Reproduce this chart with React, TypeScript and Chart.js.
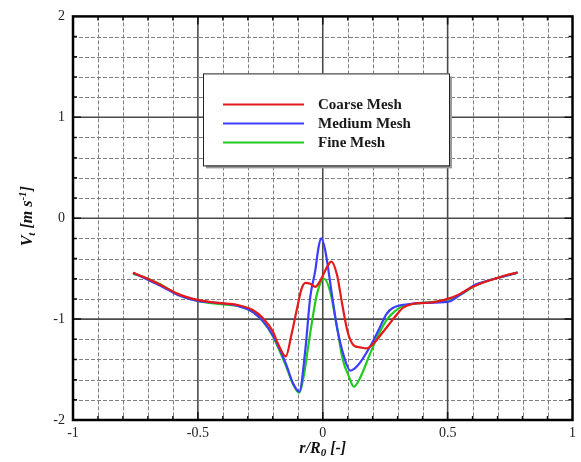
import React, { useEffect, useRef } from "react";
import { Chart, registerables } from "chart.js";

Chart.register(...registerables);

const coarseX = [-0.76, -0.70, -0.65, -0.58, -0.50, -0.42, -0.34, -0.28, -0.24, -0.20, -0.18, -0.148, -0.125, -0.10, -0.085, -0.069, -0.05, -0.03, -0.01, 0.018, 0.034, 0.057, 0.077, 0.10, 0.124, 0.15, 0.176, 0.20, 0.25, 0.295, 0.32, 0.36, 0.41, 0.45, 0.50, 0.55, 0.585, 0.64, 0.69, 0.74, 0.78];
const coarseY = [-0.54, -0.60, -0.66, -0.75, -0.81, -0.84, -0.86, -0.91, -0.99, -1.12, -1.24, -1.37, -1.15, -0.86, -0.70, -0.64, -0.65, -0.68, -0.62, -0.48, -0.43, -0.56, -0.84, -1.13, -1.26, -1.28, -1.29, -1.25, -1.10, -0.96, -0.89, -0.85, -0.84, -0.83, -0.80, -0.75, -0.70, -0.64, -0.60, -0.56, -0.54];

const mediumX = [-0.76, -0.70, -0.65, -0.58, -0.50, -0.42, -0.34, -0.28, -0.24, -0.20, -0.148, -0.12, -0.094, -0.07, -0.05, -0.03, -0.017, -0.006, 0.01, 0.038, 0.057, 0.085, 0.11, 0.14, 0.19, 0.225, 0.255, 0.28, 0.35, 0.40, 0.50, 0.55, 0.61, 0.66, 0.72, 0.78];
const mediumY = [-0.54, -0.61, -0.67, -0.76, -0.82, -0.84, -0.87, -0.93, -1.02, -1.16, -1.44, -1.63, -1.72, -1.31, -0.78, -0.52, -0.29, -0.20, -0.32, -0.78, -1.08, -1.37, -1.51, -1.46, -1.27, -1.10, -0.95, -0.89, -0.85, -0.84, -0.83, -0.76, -0.66, -0.62, -0.58, -0.54];

const fineX = [-0.76, -0.70, -0.655, -0.576, -0.50, -0.42, -0.34, -0.28, -0.24, -0.20, -0.148, -0.12, -0.094, -0.075, -0.06, -0.042, -0.022, 0.005, 0.03, 0.057, 0.08, 0.105, 0.124, 0.15, 0.19, 0.22, 0.255, 0.29, 0.32, 0.40, 0.50, 0.55, 0.61, 0.66, 0.72, 0.78];
const fineY = [-0.55, -0.60, -0.65, -0.76, -0.82, -0.85, -0.87, -0.93, -1.02, -1.17, -1.46, -1.64, -1.73, -1.55, -1.30, -1.01, -0.74, -0.60, -0.73, -1.08, -1.40, -1.57, -1.67, -1.58, -1.34, -1.17, -1.01, -0.92, -0.87, -0.84, -0.81, -0.76, -0.67, -0.62, -0.58, -0.54];

const seriesLabels = ["Coarse Mesh", "Medium Mesh", "Fine Mesh"];
const seriesColors = ["#e41a1a", "#3d3dff", "#1fcc1f"];

const xMinorTicks = [-0.9, -0.8, -0.7, -0.6, -0.4, -0.3, -0.2, -0.1, 0.1, 0.2, 0.3, 0.4, 0.6, 0.7, 0.8, 0.9];
const xMajorTicks = [-0.5, 0, 0.5];
const yMinorTicks = [-1.8, -1.6, -1.4, -1.2, -0.8, -0.6, -0.4, -0.2, 0.2, 0.4, 0.6, 0.8, 1.2, 1.4, 1.6, 1.8];
const yMajorTicks = [-1, 0, 1];

const SERIF = "'Liberation Serif', 'Times New Roman', serif";

type Seg = { t: string; font: string; dy: number };

function drawRich(ctx: CanvasRenderingContext2D, segs: Seg[], cx: number, cy: number) {
  let w = 0;
  for (const s of segs) {
    ctx.font = s.font;
    w += ctx.measureText(s.t).width;
  }
  let x = cx - w / 2;
  ctx.textBaseline = "middle";
  ctx.textAlign = "left";
  for (const s of segs) {
    ctx.font = s.font;
    ctx.fillText(s.t, x, cy + s.dy);
    x += ctx.measureText(s.t).width;
  }
}

const framePlugin = {
  id: "frame",
  beforeDatasetsDraw(chart: any) {
    const { ctx, chartArea: a, scales } = chart;
    const xs = scales.x;
    const ys = scales.y;
    ctx.save();
    ctx.lineWidth = 1;
    ctx.strokeStyle = "#808080";
    ctx.setLineDash([4, 2]);
    for (const v of xMinorTicks) {
      const px = Math.round(xs.getPixelForValue(v)) + 0.5;
      ctx.beginPath();
      ctx.moveTo(px, a.top);
      ctx.lineTo(px, a.bottom);
      ctx.stroke();
    }
    for (const v of yMinorTicks) {
      const py = Math.round(ys.getPixelForValue(v)) + 0.5;
      ctx.beginPath();
      ctx.moveTo(a.left, py);
      ctx.lineTo(a.right, py);
      ctx.stroke();
    }
    ctx.setLineDash([]);
    ctx.strokeStyle = "#4a4a4a";
    ctx.lineWidth = 1.6;
    for (const v of xMajorTicks) {
      const px = xs.getPixelForValue(v);
      ctx.beginPath();
      ctx.moveTo(px, a.top);
      ctx.lineTo(px, a.bottom);
      ctx.stroke();
    }
    for (const v of yMajorTicks) {
      const py = ys.getPixelForValue(v);
      ctx.beginPath();
      ctx.moveTo(a.left, py);
      ctx.lineTo(a.right, py);
      ctx.stroke();
    }
    // tick marks
    ctx.strokeStyle = "#111";
    ctx.lineWidth = 1.5;
    const tick = (vals: number[], len: number) => {
      for (const v of vals) {
        const px = xs.getPixelForValue(v);
        ctx.beginPath();
        ctx.moveTo(px, a.bottom);
        ctx.lineTo(px, a.bottom - len);
        ctx.moveTo(px, a.top);
        ctx.lineTo(px, a.top + len);
        ctx.stroke();
      }
    };
    const tickY = (vals: number[], len: number) => {
      for (const v of vals) {
        const py = ys.getPixelForValue(v);
        ctx.beginPath();
        ctx.moveTo(a.left, py);
        ctx.lineTo(a.left + len, py);
        ctx.moveTo(a.right, py);
        ctx.lineTo(a.right - len, py);
        ctx.stroke();
      }
    };
    tick(xMinorTicks, 4);
    tick(xMajorTicks, 8);
    tickY(yMinorTicks, 4);
    tickY(yMajorTicks, 8);
    ctx.restore();
  },
  afterDatasetsDraw(chart: any) {
    const { ctx, chartArea: a } = chart;
    ctx.save();
    // frame
    ctx.strokeStyle = "#000";
    ctx.lineWidth = 2.5;
    ctx.strokeRect(a.left, a.top, a.right - a.left, a.bottom - a.top);

    // legend box
    const bx = a.left + 130;
    const by = a.top + 57;
    const bw = 246;
    const bh = 92;
    ctx.fillStyle = "#9a9a9a";
    ctx.fillRect(bx + 3, by + 3, bw, bh);
    ctx.fillStyle = "#fff";
    ctx.fillRect(bx, by, bw, bh);
    ctx.strokeStyle = "#222";
    ctx.lineWidth = 1;
    ctx.strokeRect(bx + 0.5, by + 0.5, bw, bh);
    chart.data.datasets.forEach((ds: any, i: number) => {
      const ly = by + 31 + i * 19;
      ctx.strokeStyle = ds.borderColor;
      ctx.lineWidth = 2;
      ctx.beginPath();
      ctx.moveTo(bx + 20, ly);
      ctx.lineTo(bx + 101, ly);
      ctx.stroke();
      ctx.fillStyle = "#1a1a1a";
      ctx.font = `bold 15px ${SERIF}`;
      ctx.textBaseline = "middle";
      ctx.textAlign = "left";
      ctx.fillText(ds.label, bx + 115, ly + 1);
    });

    // axis titles
    ctx.fillStyle = "#111";
    const bi = `italic bold 16px ${SERIF}`;
    const biSmall = `italic bold 11px ${SERIF}`;
    drawRich(
      ctx,
      [
        { t: "r/R", font: bi, dy: 0 },
        { t: "0", font: biSmall, dy: 4 },
        { t: " [-]", font: bi, dy: 0 },
      ],
      (a.left + a.right) / 2,
      a.bottom + 29
    );
    ctx.translate(28, (a.top + a.bottom) / 2 - 2);
    ctx.rotate(-Math.PI / 2);
    drawRich(
      ctx,
      [
        { t: "V", font: bi, dy: 0 },
        { t: "t", font: biSmall, dy: 4 },
        { t: " [m s", font: bi, dy: 0 },
        { t: "-1", font: biSmall, dy: -5 },
        { t: "]", font: bi, dy: 0 },
      ],
      0,
      0
    );
    ctx.restore();
  },
};

function App() {
  const ref = useRef<HTMLCanvasElement | null>(null);
  useEffect(() => {
    if (!ref.current) return;
    const xsArr = [coarseX, mediumX, fineX];
    const ysArr = [coarseY, mediumY, fineY];
    const chart = new Chart(ref.current, {
      type: "line",
      data: {
        datasets: seriesLabels.map((label, i) => ({
          label,
          data: xsArr[i].map((x, k) => ({ x, y: ysArr[i][k] })),
          borderColor: seriesColors[i],
          backgroundColor: seriesColors[i],
          borderWidth: 2.2,
          pointRadius: 0,
          cubicInterpolationMode: "monotone" as const,
          fill: false,
        })),
      },
      options: {
        animation: false,
        responsive: false,
        layout: { padding: { top: 15, right: 3, left: 0, bottom: 0 } },
        plugins: { legend: { display: false }, tooltip: { enabled: false } },
        scales: {
          x: {
            type: "linear",
            min: -1,
            max: 1,
            grid: { display: false, drawTicks: false },
            border: { display: false },
            afterFit: (s: any) => {
              s.height = 42;
            },
            ticks: {
              stepSize: 0.5,
              padding: 5,
              color: "#222",
              font: { family: SERIF, size: 14 },
              callback: (v: any) => String(v),
            },
          },
          y: {
            type: "linear",
            min: -2,
            max: 2,
            grid: { display: false, drawTicks: false },
            border: { display: false },
            afterFit: (s: any) => {
              s.width = 73;
            },
            ticks: {
              stepSize: 1,
              padding: 8,
              color: "#222",
              font: { family: SERIF, size: 14 },
              callback: (v: any) => String(v),
            },
          },
        },
      },
      plugins: [framePlugin],
    });
    return () => chart.destroy();
  }, []);
  return (
    <div style={{ position: "absolute", left: 0, top: 0, width: 581, height: 462, background: "#fff" }}>
      <canvas ref={ref} width={581} height={462} />
    </div>
  );
}

export default App;
